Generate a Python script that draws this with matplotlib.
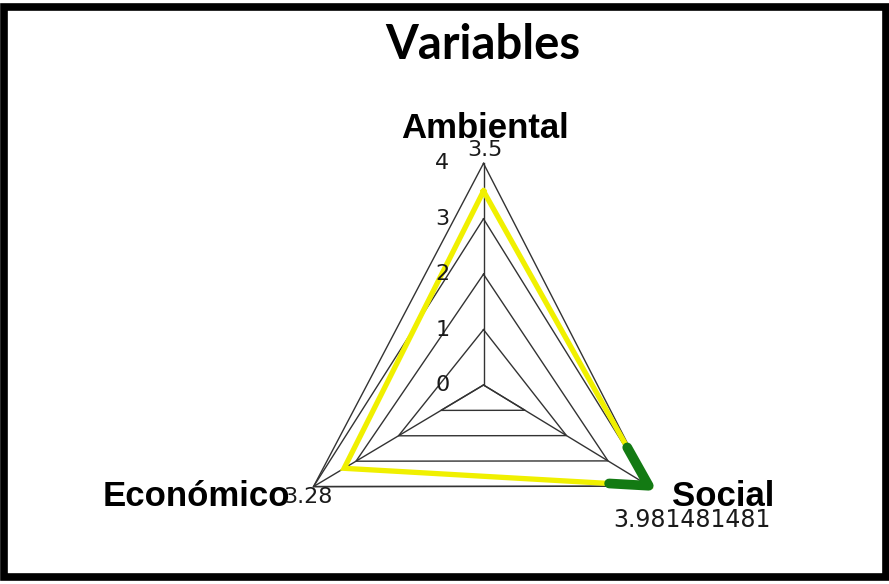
import matplotlib
matplotlib.use('Agg')
import matplotlib.pyplot as plt
from matplotlib.patches import Rectangle

W, H = 889, 584

title = 'Variables'
axes_names = ['Ambiental', 'Social', 'Económico']
values = [3.5, 3.981481481, 3.28]
value_labels = ['3.5', '3.981481481', '3.28']
ticks = [0, 1, 2, 3, 4]

# layout of the radar in pixels (image is drawn a bit squashed)
center = (483.5, 385.0)
spoke_dirs = {
  'Ambiental': (0.0, -55.4),
  'Social': (41.5, 25.3),
  'Económico': (-42.5, 25.4),
}
green_frac = 0.13


def pos(name, v):
  dx, dy = spoke_dirs[name]
  return center[0] + v * dx, center[1] + v * dy


fig = plt.figure(figsize=(W / 100, H / 100), dpi=100)
ax = fig.add_axes([0, 0, 1, 1])
ax.set_xlim(0, W)
ax.set_ylim(H, 0)
ax.axis('off')

# frame
ax.add_patch(Rectangle((3.5, 6.5), W - 7, H - 14, fill=False, edgecolor='black', linewidth=5.5))

# spokes
for name in axes_names:
  x1, y1 = pos(name, ticks[-1])
  ax.plot([center[0], x1], [center[1], y1], color='#333333', linewidth=1.0)

# rings (the top vertex and the base sit one step apart in the original)
top = ticks[-1]
for k in ticks:
  kb = min(k + 1, top)
  pts = [pos('Ambiental', k), pos('Social', kb), pos('Económico', kb), pos('Ambiental', k)]
  ax.plot([p[0] for p in pts], [p[1] for p in pts], color='#333333', linewidth=1.0)

# data polygon
pts = [pos(n, v) for n, v in zip(axes_names, values)]
loop = pts + [pts[0]]
ax.plot([p[0] for p in loop], [p[1] for p in loop], color='#f0f000', linewidth=3.8,
        solid_joinstyle='miter', zorder=3)

# green highlight around the Social point
s = pts[1]
a = pts[0]
e = pts[2]
ga = (s[0] + (a[0] - s[0]) * green_frac, s[1] + (a[1] - s[1]) * green_frac)
ge = (s[0] + (e[0] - s[0]) * green_frac, s[1] + (e[1] - s[1]) * green_frac)
ax.plot([ga[0], s[0], ge[0]], [ga[1], s[1], ge[1]], color='#137a13', linewidth=7,
        solid_capstyle='round', solid_joinstyle='round', zorder=4)

# tick labels
for k in ticks:
  x, y = pos('Ambiental', k)
  ax.text(x - 34, y, str(k), ha='right', va='center', fontsize=16,
          family='DejaVu Sans', color='#1a1a1a', zorder=5)

# axis names
ax.text(485, 128, axes_names[0], ha='center', va='center', fontsize=25,
        family='Liberation Sans', fontweight='bold', zorder=5)
ax.text(723, 497, axes_names[1], ha='center', va='center', fontsize=25,
        family='Liberation Sans', fontweight='bold', zorder=5)
ax.text(196, 497, axes_names[2], ha='center', va='center', fontsize=25,
        family='Liberation Sans', fontweight='bold', zorder=5)

# value labels
ax.text(485, 150, value_labels[0], ha='center', va='center', fontsize=16,
        family='DejaVu Sans', color='#1a1a1a', zorder=6)
ax.text(692, 520, value_labels[1], ha='center', va='center', fontsize=17,
        family='DejaVu Sans', color='#1a1a1a', zorder=6)
ax.text(308, 497, value_labels[2], ha='center', va='center', fontsize=16,
        family='DejaVu Sans', color='#1a1a1a', zorder=6)

ax.text(483, 45, title, ha='center', va='center', fontsize=34,
        family='Lato', fontweight='bold', zorder=6)

fig.savefig('out.png', dpi=100, facecolor='white')
